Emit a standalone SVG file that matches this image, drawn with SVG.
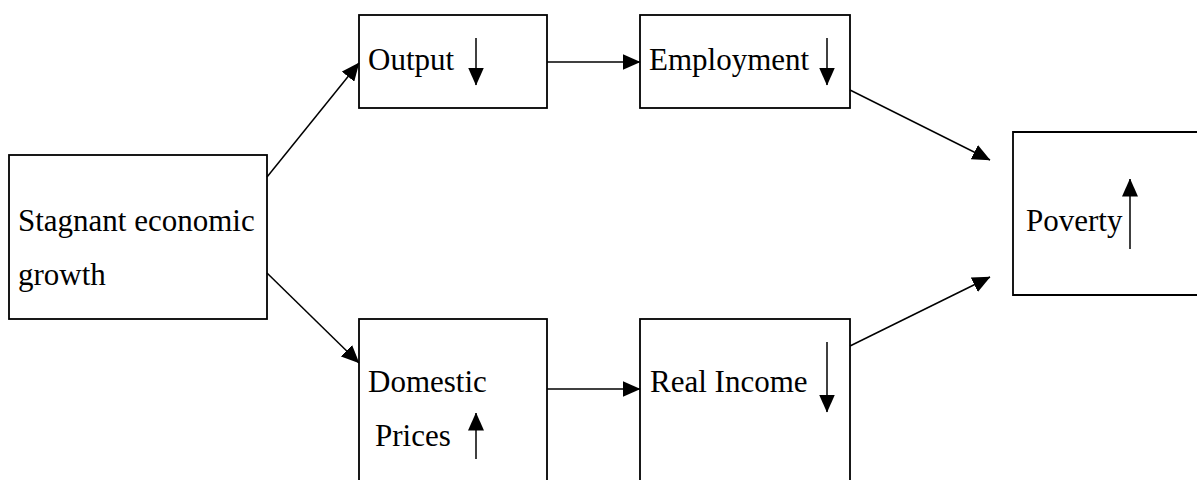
<svg xmlns="http://www.w3.org/2000/svg" width="1197" height="480" viewBox="0 0 1197 480">
<style>
.box{fill:#fff;stroke:#000;stroke-width:1.8}
.lbl{font-family:"Liberation Serif","Times New Roman",serif;font-size:31px;fill:#000}
.con{stroke:#000;stroke-width:1.5;fill:none;marker-end:url(#ah)}
</style>
<defs>
<marker id="ah" markerUnits="userSpaceOnUse" viewBox="0 0 18 16" markerWidth="18" markerHeight="16" refX="17.5" refY="8" orient="auto">
<path d="M0,0 L18,8 L0,16 Z" fill="#000"/>
</marker>
</defs>
<rect width="1197" height="480" fill="#fff"/>
<g id="stagnant">
<rect class="box" x="9" y="155" width="258" height="164"/>
<text class="lbl" x="18" y="231">Stagnant economic</text>
<text class="lbl" x="18" y="285">growth</text>
</g>
<g id="output">
<rect class="box" x="359" y="15" width="188" height="93"/>
<text class="lbl" x="368" y="70">Output</text>
<line class="con" x1="476" y1="38" x2="476" y2="85"/>
</g>
<g id="employment">
<rect class="box" x="640" y="15" width="210" height="93"/>
<text class="lbl" x="649" y="70">Employment</text>
<line class="con" x1="827" y1="38" x2="827" y2="85"/>
</g>
<g id="domestic">
<rect class="box" x="359" y="319" width="188" height="180"/>
<text class="lbl" x="368" y="392">Domestic</text>
<text class="lbl" x="375" y="446">Prices</text>
<line class="con" x1="476" y1="459" x2="476" y2="413"/>
</g>
<g id="realincome">
<rect class="box" x="640" y="319" width="210" height="180"/>
<text class="lbl" x="650" y="392">Real Income</text>
<line class="con" x1="827" y1="342" x2="827" y2="412"/>
</g>
<g id="poverty">
<path d="M1198,132 L1013,132 L1013,295 L1198,295" fill="#fff" stroke="#000" stroke-width="1.8"/>
<text class="lbl" x="1026" y="231">Poverty</text>
<line class="con" x1="1130" y1="249" x2="1130" y2="179"/>
</g>
<g id="connectors">
<line class="con" x1="267" y1="177" x2="359" y2="63"/>
<line class="con" x1="267" y1="273" x2="359" y2="363"/>
<line class="con" x1="547" y1="62" x2="640" y2="62"/>
<line class="con" x1="547" y1="389" x2="640" y2="389"/>
<line class="con" x1="850" y1="90" x2="990" y2="160"/>
<line class="con" x1="850" y1="346" x2="990" y2="277"/>
</g>
</svg>
